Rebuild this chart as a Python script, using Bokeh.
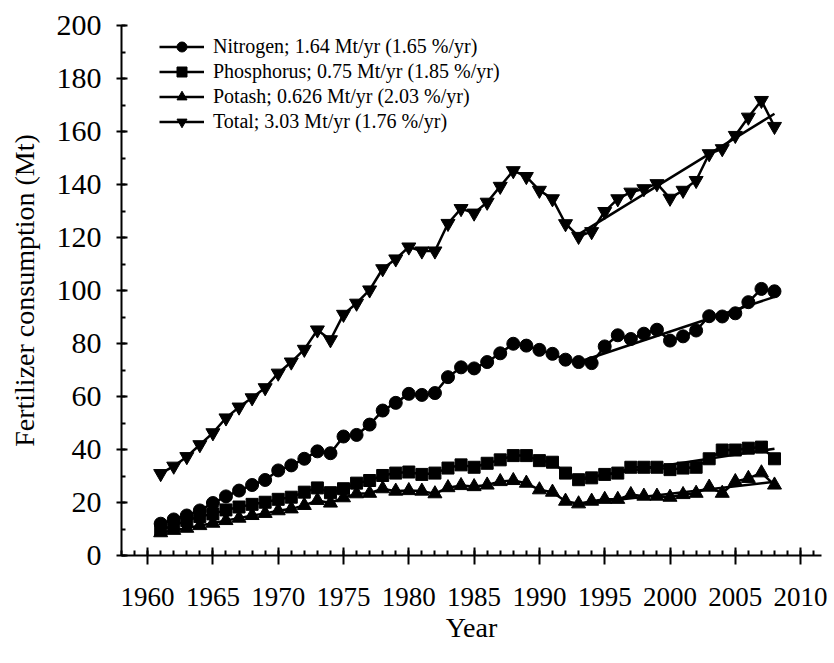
from bokeh.plotting import figure
from bokeh.models import ColumnDataSource, Legend, LegendItem, SingleIntervalTicker, Range1d
from bokeh.embed import file_html
from bokeh.resources import INLINE

years = list(range(1961, 2009))

nitrogen = [12.0, 13.6, 15.1, 17.0, 19.8, 22.3, 24.5, 26.6, 28.5, 32.1,
            34.0, 36.5, 39.3, 38.6, 44.9, 45.5, 49.4, 54.7, 57.6, 61.0,
            60.6, 61.3, 67.3, 71.0, 70.6, 73.0, 76.3, 79.9, 79.2, 77.6,
            76.1, 73.9, 73.0, 72.6, 78.9, 83.1, 81.7, 83.7, 85.2, 81.1,
            82.7, 84.9, 90.3, 90.2, 91.4, 95.6, 100.6, 99.7]

phosphorus = [9.7, 11.3, 13.2, 14.7, 15.7, 17.2, 18.3, 19.3, 20.1, 21.2,
              22.0, 23.9, 25.5, 23.7, 25.2, 27.3, 28.3, 30.2, 31.1, 31.5,
              30.6, 31.1, 33.0, 34.2, 33.3, 34.8, 36.1, 37.7, 37.7, 35.8,
              35.2, 31.1, 28.6, 29.3, 30.6, 31.1, 33.3, 33.3, 33.3, 32.4,
              33.0, 33.3, 36.5, 39.8, 39.8, 40.5, 40.9, 36.5]

potash = [8.6, 9.5, 10.3, 11.3, 12.2, 13.2, 14.1, 15.1, 15.9, 16.9,
          17.6, 18.9, 20.8, 19.8, 21.8, 23.3, 23.5, 25.2, 24.3, 24.5,
          24.3, 23.3, 25.6, 26.4, 26.0, 26.6, 27.9, 28.3, 27.3, 24.8,
          23.9, 20.5, 19.5, 20.5, 21.2, 21.2, 23.0, 22.4, 22.4, 22.0,
          23.0, 23.5, 25.8, 23.5, 27.9, 29.1, 31.2, 26.6]

total = [30.9, 33.7, 37.3, 41.8, 46.3, 51.9, 56.0, 59.5, 63.3, 68.8,
         73.0, 77.8, 85.1, 81.4, 91.0, 95.2, 100.2, 108.2, 111.9, 116.4,
         114.9, 114.9, 125.3, 130.9, 129.2, 133.3, 139.3, 145.2, 143.0, 137.8,
         134.6, 125.2, 120.4, 122.2, 129.8, 134.6, 137.1, 138.4, 140.3, 134.8,
         137.8, 141.5, 151.6, 153.5, 158.5, 165.4, 171.7, 161.9]

fit_years = [1993, 2008]
nitrogen_fit = [73.0, 97.6]
phosphorus_fit = [29.0, 40.3]
potash_fit = [19.3, 27.8]
total_fit = [121.2, 166.7]

labels = ["Nitrogen; 1.64 Mt/yr (1.65 %/yr)",
          "Phosphorus; 0.75 Mt/yr (1.85 %/yr)",
          "Potash; 0.626 Mt/yr (2.03 %/yr)",
          "Total; 3.03 Mt/yr (1.76 %/yr)"]

FONT = "Liberation Serif"

p = figure(frame_width=700, frame_height=530,
           x_range=Range1d(1958, 2011.6), y_range=Range1d(0, 200),
           output_backend="svg", toolbar_location=None,
           min_border_left=121, min_border_right=7,
           min_border_top=25, min_border_bottom=96)
p.xgrid.visible = False
p.ygrid.visible = False
p.outline_line_color = None
p.background_fill_color = "white"

series = [(nitrogen, "circle", 13), (phosphorus, "square", 12),
          (potash, "triangle", 14), (total, "inverted_triangle", 14)]
fits = [nitrogen_fit, phosphorus_fit, potash_fit, total_fit]

items = []
for (vals, marker, size), label in zip(series, labels):
    src = ColumnDataSource(dict(x=years, y=vals))
    ln = p.line('x', 'y', source=src, line_color='black', line_width=2.5)
    sc = p.scatter('x', 'y', source=src, marker=marker, size=size,
                   fill_color='black', line_color='black')
    items.append(LegendItem(label=label, renderers=[ln, sc]))

for f in fits:
    p.line(fit_years, f, line_color='black', line_width=2.5)

legend = Legend(items=items, location=(38, 421))
legend.glyph_width = 45
legend.glyph_height = 25
legend.label_height = 25
legend.spacing = 0
legend.padding = 0
legend.margin = 0
legend.label_standoff = 9
legend.label_text_font = FONT
legend.label_text_font_size = "20px"
legend.label_text_color = "black"
legend.border_line_color = None
legend.background_fill_alpha = 0
p.add_layout(legend)

xa = p.xaxis[0]
xa.ticker = SingleIntervalTicker(interval=5, num_minor_ticks=5)
xa.axis_label = "Year"
ya = p.yaxis[0]
ya.ticker = SingleIntervalTicker(interval=20, num_minor_ticks=2)
ya.axis_label = "Fertilizer consumption (Mt)"

for ax in (xa, ya):
    ax.axis_line_width = 2
    ax.axis_line_color = "black"
    ax.major_tick_line_width = 2
    ax.minor_tick_line_width = 2
    ax.major_tick_line_color = "black"
    ax.minor_tick_line_color = "black"
    ax.major_label_text_font = FONT
    ax.major_label_text_color = "black"
    ax.axis_label_text_font = FONT
    ax.axis_label_text_font_style = "normal"
    ax.axis_label_text_font_size = "28px"
    ax.axis_label_text_color = "black"

xa.major_label_text_font_size = "27px"
xa.major_tick_in = 8
xa.major_tick_out = 9
xa.minor_tick_in = 5
xa.minor_tick_out = 0
xa.major_label_standoff = 23
xa.axis_label_standoff = 3

ya.major_label_text_font_size = "30px"
ya.major_tick_in = 6
ya.major_tick_out = 5
ya.minor_tick_in = 4
ya.minor_tick_out = 0
ya.major_label_standoff = 15
ya.axis_label_standoff = 14

open("out.html", "w").write(file_html(p, INLINE))
